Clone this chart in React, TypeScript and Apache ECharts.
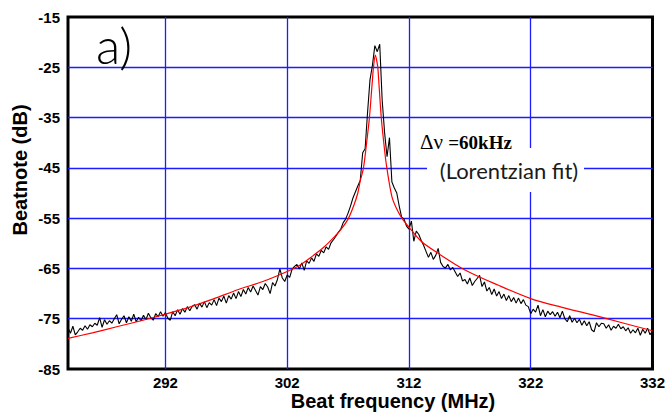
import { useEffect, useRef } from "react";
import * as echarts from "echarts";

// Spectrum-analyser sweep of the beatnote (start frequency and bin width, MHz)
const SWEEP_START_MHZ = 284;
const SWEEP_STEP_MHZ = 0.2;

// Measured beatnote level (dB), one value per sweep bin, 284 ... 332 MHz
const beatnoteDb = [
  -76.8, -77.9, -76.5, -78.2, -77.6, -76.9, -77.3, -76.4, -77.1, -76.2,
  -76.6, -75.9, -76.3, -74.8, -76.7, -75.2, -76.1, -75.4, -75.9, -75.0,
  -74.2, -76.0, -75.1, -74.4, -75.8, -74.6, -75.5, -74.1, -75.6, -74.7,
  -75.4, -74.3, -75.2, -73.9, -74.8, -75.3, -74.0, -74.6, -73.6, -74.5,
  -73.8, -74.9, -75.3, -73.6, -74.4, -73.2, -74.1, -73.0, -73.7, -72.6,
  -73.4, -72.5, -72.2, -73.1, -71.9, -72.7, -71.6, -72.8, -71.8, -72.3,
  -71.2, -72.4, -70.9, -71.6, -70.5, -71.9, -70.4, -71.1, -69.9, -71.0,
  -69.6, -70.6, -69.2, -70.1, -68.8, -69.7, -68.5, -69.4, -70.3, -68.6,
  -69.2, -68.0, -68.7, -70.0, -67.8, -68.5, -67.2, -65.1, -66.9, -67.6,
  -66.3, -66.8, -65.2, -64.6, -64.2, -65.1, -63.9, -65.4, -63.5, -64.0,
  -62.9, -63.6, -62.1, -62.6, -61.4, -61.9, -60.7, -61.2, -59.9, -59.3,
  -58.6, -57.8, -57.2, -55.9, -55.2, -54.0, -52.6, -51.0, -49.8, -48.6,
  -47.5, -42.0, -41.2, -34.0, -27.5, -24.6, -20.7, -21.9, -20.4, -31.5,
  -38.0, -42.8, -39.0, -47.8, -49.0, -50.0, -52.6, -54.8, -55.2, -56.6,
  -57.2, -55.6, -59.6, -57.6, -58.2, -59.4, -60.4, -61.6, -62.8, -61.8,
  -63.2, -62.4, -61.0, -63.8, -64.6, -64.9, -64.2, -65.3, -64.8, -65.7,
  -66.6, -65.9, -67.5, -67.2, -68.1, -66.9, -68.4, -67.6, -67.0, -66.4,
  -68.6, -67.7, -69.5, -68.8, -70.2, -69.1, -70.5, -69.6, -71.0, -70.1,
  -71.4, -70.4, -71.6, -70.8, -71.9, -70.9, -72.0, -71.2, -72.3, -72.6,
  -74.0, -73.1, -73.7, -72.3, -74.4, -73.2, -74.6, -73.5, -74.2, -73.6,
  -74.5, -73.7, -74.8, -73.5, -75.0, -75.6, -74.4, -75.7, -74.9, -75.8,
  -75.1, -76.3, -75.4, -76.4, -75.6, -77.2, -77.6, -75.8, -76.6, -75.9,
  -76.0, -76.9, -76.2, -77.3, -76.5, -76.9, -76.1, -77.0, -76.6, -77.4,
  -76.8, -77.9, -77.2, -77.8, -76.9, -78.3, -77.1, -77.9, -76.9, -78.2, -77.4,
];

// Lorentzian fit curve
const fitFreq = [
  284, 286, 288, 290, 292, 294, 296, 298, 300, 302, 303, 304, 305, 306, 306.4,
  307, 307.5, 307.8, 308, 308.26, 308.5, 308.75, 309, 309.08, 309.24, 309.4,
  309.45, 309.73, 310, 310.19, 310.6, 311, 311.42, 312, 313, 314.4, 316.6,
  319.3, 322, 324.5, 327, 329.5, 332,
];
const fitDb = [
  -78.9, -77.8, -76.6, -75.4, -74.1, -72.7, -71.0, -69.2, -67.6, -65.6, -64.4,
  -62.7, -60.8, -58.4, -57.3, -55.2, -52.3, -50.0, -47.6, -45.1, -40.5, -35.1,
  -27.5, -25.2, -22.6, -24.3, -25.2, -35.1, -41.5, -45.1, -50.7, -53.2, -55.0,
  -56.8, -59.6, -62.0, -65.3, -68.3, -71.0, -72.7, -74.2, -75.8, -77.4,
];

const xTickLabels = [292, 302, 312, 322, 332];
const xGridLines = [292, 302, 312, 322];
const yTickLabels = [-85, -75, -65, -55, -45, -35, -25, -15];
const yGridLines = [-75, -65, -55, -45, -35, -25];

export default function App() {
  const ref = useRef<HTMLDivElement>(null);

  useEffect(() => {
    if (!ref.current) return;
    const chart = echarts.init(ref.current, undefined, { renderer: "svg" });

    const beatData = beatnoteDb.map((v, i) => [
      +(SWEEP_START_MHZ + i * SWEEP_STEP_MHZ).toFixed(2),
      v,
    ]);
    const fitData = fitFreq.map((f, i) => [f, fitDb[i]]);

    const labelFont = {
      fontFamily: "'Liberation Sans', Arial, sans-serif",
      fontWeight: "bold" as const,
      fontSize: 15,
      color: "#000",
    };
    const gridLine = { show: true, lineStyle: { color: "#1c1cff", width: 1.3 } };

    chart.setOption({
      animation: false,
      backgroundColor: "#fff",
      grid: {
        left: 68,
        right: 13,
        top: 17,
        bottom: 44,
        show: true,
        borderColor: "#000",
        borderWidth: 3,
        backgroundColor: "transparent",
      },
      xAxis: {
        type: "value",
        min: 284,
        max: 332,
        axisLine: { show: false },
        axisTick: { show: false, customValues: xGridLines },
        axisLabel: { ...labelFont, margin: 6, customValues: xTickLabels },
        splitLine: gridLine,
      },
      yAxis: {
        type: "value",
        min: -85,
        max: -15,
        axisLine: { show: false },
        axisTick: { show: false, customValues: yGridLines },
        axisLabel: { ...labelFont, margin: 8, customValues: yTickLabels },
        splitLine: gridLine,
      },
      series: [
        {
          type: "line",
          data: beatData,
          showSymbol: false,
          lineStyle: { color: "#000", width: 1.1 },
          z: 3,
        },
        {
          type: "line",
          data: fitData,
          showSymbol: false,
          smooth: 0.3,
          lineStyle: { color: "#ff0000", width: 1.2 },
          z: 4,
        },
      ],
      graphic: [
        {
          type: "rect",
          shape: { x: 427, y: 148, width: 157, height: 44 },
          style: { fill: "#fff" },
          z: 50,
        },
        {
          type: "text",
          x: 96,
          y: 45,
          style: {
            text: "a)",
            font: "300 50px Lato, 'Open Sans', sans-serif",
            fill: "#000",
            verticalAlign: "middle",
          },
          z: 60,
        },
        {
          type: "text",
          x: 420,
          y: 142,
          style: {
            text: "{a|Δν }{b|=60kHz}",
            verticalAlign: "middle",
            rich: {
              a: {
                fontFamily: "'Liberation Serif', 'Times New Roman', serif",
                fontSize: 21,
                fill: "#000",
              },
              b: {
                fontFamily: "'Liberation Serif', 'Times New Roman', serif",
                fontWeight: "bold",
                fontSize: 19,
                fill: "#000",
              },
            },
          },
          z: 60,
        },
        {
          type: "text",
          x: 509,
          y: 170,
          style: {
            text: "(Lorentzian fit)",
            font: "400 22px Lato, 'Open Sans', sans-serif",
            fill: "#1a1a1a",
            align: "center",
            verticalAlign: "middle",
          },
          z: 60,
        },
        {
          type: "text",
          x: 393,
          y: 391,
          style: {
            text: "Beat frequency (MHz)",
            font: "bold 20px 'Liberation Sans', Arial, sans-serif",
            fill: "#000",
            align: "center",
            verticalAlign: "top",
          },
          z: 60,
        },
        {
          type: "text",
          x: 20,
          y: 170,
          rotation: Math.PI / 2,
          style: {
            text: "Beatnote (dB)",
            font: "bold 20px 'Liberation Sans', Arial, sans-serif",
            fill: "#000",
            align: "center",
            verticalAlign: "middle",
          },
          z: 60,
        },
      ],
    });

    return () => chart.dispose();
  }, []);

  return (
    <div
      ref={ref}
      style={{ position: "fixed", left: 0, top: 0, width: 668, height: 413 }}
    />
  );
}
